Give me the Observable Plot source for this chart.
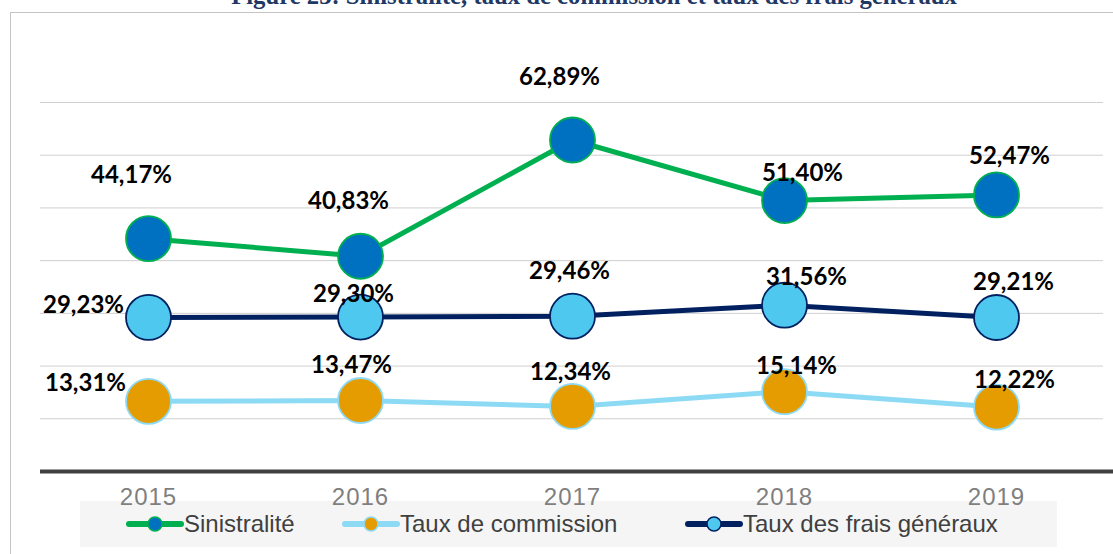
<!DOCTYPE html>
<html>
<head>
<meta charset="utf-8">
<script src="https://cdn.jsdelivr.net/npm/d3@7"></script>
<script src="https://cdn.jsdelivr.net/npm/@observablehq/plot@0.6"></script>
<style>
  html, body { margin: 0; padding: 0; background: #fff; }
  #wrap { position: relative; width: 1113px; height: 554px; overflow: hidden; }
  #title { position: absolute; left: 0; width: 1113px; top: -18px; text-align: center;
    font-family: "Liberation Serif", serif; font-weight: bold; font-size: 24.7px; color: #1F3864; padding-left: 75px; box-sizing: border-box; white-space: nowrap; }
  #frame { position: absolute; left: 10px; top: 12px; width: 1200px; height: 600px;
    border-left: 1.5px solid #c4c4c4; border-top: 1.5px solid #c4c4c4; }
  #legend { position: absolute; left: 80px; top: 501px; width: 977px; height: 46px; background: #f5f5f5; }
  .item { position: absolute; top: 0; height: 46px; display: flex; align-items: center;
    font-family: "Liberation Sans Narrow", "Liberation Sans", sans-serif; font-size: 24px; color: #404040; }
  .item svg { display: block; }
  #chart { position: absolute; left: 0; top: 0; }
</style>
</head>
<body>
<div id="wrap">
  <div id="frame"></div>
  <div id="legend"></div>
  <div id="chart"></div>
  <div id="title">Figure 23: Sinistralité, taux de commission et taux des frais généraux</div>
</div>
<script>
// ---- Data ----
const years = ["2015", "2016", "2017", "2018", "2019"];
const seriesNames = ["Sinistralité", "Taux de commission", "Taux des frais généraux"];
const sinistralite = [44.17, 40.83, 62.89, 51.40, 52.47];
const commission = [13.31, 13.47, 12.34, 15.14, 12.22];
const fraisGeneraux = [29.23, 29.30, 29.46, 31.56, 29.21];
const gridValues = [10, 20, 30, 40, 50, 60, 70];

// ---- Styles / layout ----
const styles = {
  "Sinistralité": { line: "#00B050", fill: "#0070C0", stroke: "#00B050", width: 5 },
  "Taux de commission": { line: "#8DDAF5", fill: "#E59C00", stroke: "#8DDAF5", width: 5 },
  "Taux des frais généraux": { line: "#002060", fill: "#4EC8EF", stroke: "#002060", width: 5 }
};
// label offsets [dx, dy] relative to the marker centre
const labelOffsets = {
  "Sinistralité": [[-17, -63], [-12, -55], [-13, -63], [18, -27], [13, -39]],
  "Taux de commission": [[-63, -18], [-9, -35], [-2, -34], [12, -25], [18, -27]],
  "Taux des frais généraux": [[-65, -12], [-7, -23], [-3, -45], [22, -28], [17, -35]]
};

const valuesBySeries = {
  "Sinistralité": sinistralite,
  "Taux de commission": commission,
  "Taux des frais généraux": fraisGeneraux
};
const rows = seriesNames.flatMap(s => years.map((y, i) => ({ series: s, year: y, value: valuesBySeries[s][i], i })));
const fmt = v => v.toFixed(2).replace(".", ",") + "%";

const marks = [
  Plot.ruleY(gridValues, { stroke: "#cfcfcf", strokeWidth: 1 }),
  Plot.ruleY([0], { stroke: "#404040", strokeWidth: 4, insetRight: -12 })
];
for (const s of seriesNames) {
  const d = rows.filter(r => r.series === s);
  marks.push(Plot.line(d, { x: "year", y: "value", stroke: styles[s].line, strokeWidth: styles[s].width }));
}
for (const s of seriesNames) {
  const d = rows.filter(r => r.series === s);
  marks.push(Plot.dot(d, { x: "year", y: "value", r: 22.5, fill: styles[s].fill, stroke: styles[s].stroke, strokeWidth: 1.8 }));
}
for (const s of seriesNames) {
  rows.filter(r => r.series === s).forEach(r => {
    const [dx, dy] = labelOffsets[s][r.i];
    marks.push(Plot.text([r], { x: "year", y: "value", text: d => fmt(d.value), dx, dy,
      fontSize: 24, fontWeight: "bold", fill: "#000", fontFamily: "Lato, 'DejaVu Sans', sans-serif" }));
  });
}
marks.push(Plot.axisX({ tickSize: 0, tickPadding: 16, fontSize: 24, fill: "#7f7f7f",
  fontFamily: "'Liberation Sans Narrow', 'Liberation Sans', sans-serif", label: null }));

const chart = Plot.plot({
  width: 1113,
  height: 554,
  marginLeft: 40,
  marginRight: 10,
  marginTop: 102,
  marginBottom: 83,
  style: { background: "transparent", overflow: "visible" },
  x: { type: "point", domain: years, padding: 0.5 },
  y: { domain: [0, 70], axis: null },
  marks
});
document.getElementById("chart").append(chart);
d3.select(chart).selectAll("[aria-label='x-axis tick label'] text").attr("letter-spacing", "1px");

// ---- Legend ----
const legendItems = [
  { name: "Sinistralité", left: 46 },
  { name: "Taux de commission", left: 262 },
  { name: "Taux des frais généraux", left: 605 }
];
const legend = document.getElementById("legend");
legendItems.forEach(it => {
  const st = styles[it.name];
  const div = document.createElement("div");
  div.className = "item";
  div.style.left = it.left + "px";
  div.innerHTML = `<svg width="58" height="20"><line x1="3" y1="10" x2="55" y2="10" stroke="${st.line}" stroke-width="6" stroke-linecap="round"/><circle cx="29" cy="10" r="7" fill="${st.fill}" stroke="${st.stroke}" stroke-width="1.5"/></svg><span>${it.name}</span>`;
  legend.append(div);
});
</script>
</body>
</html>
